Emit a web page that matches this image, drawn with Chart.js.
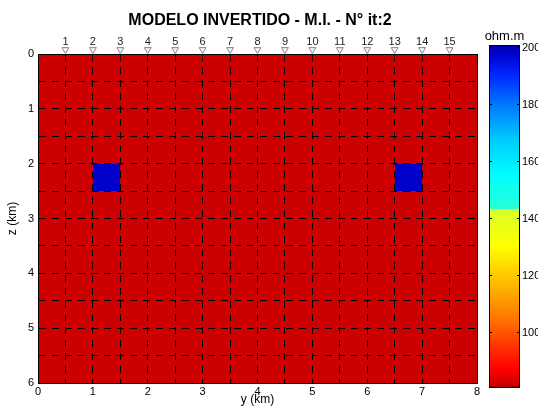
<!DOCTYPE html>
<html>
<head>
<meta charset="utf-8">
<script src="https://cdn.jsdelivr.net/npm/chart.js@4.4.0/dist/chart.umd.min.js"></script>
<style>
  html, body { margin: 0; padding: 0; background: #fff; }
  #wrap { width: 538px; height: 406px; }
</style>
</head>
<body>
<div id="wrap"><canvas id="modelChart"></canvas></div>
<script>
// Inverted resistivity model (2D section), drawn on a scatter chart

// Cell edges of the model mesh (km)
const xEdges = [0, 0.5, 1, 1.5, 2, 2.5, 3, 3.5, 4, 4.5, 5, 5.5, 6, 6.5, 7, 7.5, 8];
const zEdges = [0, 0.5, 1, 1.5, 2, 2.5, 3, 3.5, 4, 4.5, 5, 5.5, 6];

// Resistivity per cell (ohm.m), one row per depth slice
const resistivity = [
    [82, 82, 82, 82, 82, 82, 82, 82, 82, 82, 82, 82, 82, 82, 82, 82],
    [82, 82, 82, 82, 82, 82, 82, 82, 82, 82, 82, 82, 82, 82, 82, 82],
    [82, 82, 82, 82, 82, 82, 82, 82, 82, 82, 82, 82, 82, 82, 82, 82],
    [82, 82, 82, 82, 82, 82, 82, 82, 82, 82, 82, 82, 82, 82, 82, 82],
    [82, 82, 198, 82, 82, 82, 82, 82, 82, 82, 82, 82, 82, 198, 82, 82],
    [82, 82, 82, 82, 82, 82, 82, 82, 82, 82, 82, 82, 82, 82, 82, 82],
    [82, 82, 82, 82, 82, 82, 82, 82, 82, 82, 82, 82, 82, 82, 82, 82],
    [82, 82, 82, 82, 82, 82, 82, 82, 82, 82, 82, 82, 82, 82, 82, 82],
    [82, 82, 82, 82, 82, 82, 82, 82, 82, 82, 82, 82, 82, 82, 82, 82],
    [82, 82, 82, 82, 82, 82, 82, 82, 82, 82, 82, 82, 82, 82, 82, 82],
    [82, 82, 82, 82, 82, 82, 82, 82, 82, 82, 82, 82, 82, 82, 82, 82],
    [82, 82, 82, 82, 82, 82, 82, 82, 82, 82, 82, 82, 82, 82, 82, 82],
];

// MT stations along the profile
const stationX = [0.5, 1, 1.5, 2, 2.5, 3, 3.5, 4, 4.5, 5, 5.5, 6, 6.5, 7, 7.5];
const stationLabels = ['1', '2', '3', '4', '5', '6', '7', '8', '9', '10', '11', '12', '13', '14', '15'];
const stationZ = [-0.08, -0.08, -0.08, -0.08, -0.08, -0.08, -0.08, -0.08, -0.08, -0.08, -0.08, -0.08, -0.08, -0.08, -0.08];

// Axis tick labels
const xTickLabels = [0, 1, 2, 3, 4, 5, 6, 7, 8];
const zTickLabels = [0, 1, 2, 3, 4, 5, 6];

// Colour bar
const cbTicks = [100, 120, 140, 160, 180, 200];
const cbMin = 80.5;
const cbMax = 200.8;
const cmapValues = [80.5, 82, 87, 95, 105, 118, 130, 143.2, 143.3, 155, 168, 180, 190, 198, 200.8];
const cmapColors = [
    [160, 0, 0], [204, 0, 0], [255, 0, 0], [255, 50, 0], [255, 120, 0],
    [255, 190, 0], [255, 255, 0], [215, 255, 40], [40, 255, 215], [0, 255, 255],
    [0, 200, 255], [0, 120, 255], [0, 40, 255], [0, 0, 204], [0, 0, 170],
];

const FONT = 'Arial, "Liberation Sans", sans-serif';

function colorFor(v) {
    if (v <= cmapValues[0]) return `rgb(${cmapColors[0].join(',')})`;
    for (let i = 1; i < cmapValues.length; i++) {
        if (v <= cmapValues[i]) {
            const t = (v - cmapValues[i - 1]) / (cmapValues[i] - cmapValues[i - 1]);
            const a = cmapColors[i - 1];
            const b = cmapColors[i];
            const c = a.map((ch, k) => Math.round(ch + (b[k] - ch) * t));
            return `rgb(${c.join(',')})`;
        }
    }
    return `rgb(${cmapColors[cmapColors.length - 1].join(',')})`;
}

// Paint the model cells below the grid
const modelPlugin = {
    id: 'model',
    beforeDraw(chart) {
        const { ctx, scales: { x, y } } = chart;
        ctx.save();
        resistivity.forEach((row, j) => {
            row.forEach((val, i) => {
                const x0 = Math.round(x.getPixelForValue(xEdges[i]));
                const x1 = Math.round(x.getPixelForValue(xEdges[i + 1]));
                const y0 = Math.round(y.getPixelForValue(zEdges[j]));
                const y1 = Math.round(y.getPixelForValue(zEdges[j + 1]));
                ctx.fillStyle = colorFor(val);
                ctx.fillRect(x0, y0, x1 - x0, y1 - y0);
            });
        });
        ctx.restore();
    },
};

// Colour bar to the right of the section
const colorbarPlugin = {
    id: 'colorbar',
    afterDraw(chart) {
        const { ctx, chartArea } = chart;
        const left = Math.round(chartArea.right) + 12;
        const right = Math.round(chartArea.right) + 43;
        const top = Math.round(chartArea.top) - 9;
        const bottom = Math.round(chartArea.bottom) + 5;
        const h = bottom - top;
        ctx.save();
        for (let py = top; py < bottom; py++) {
            const v = cbMax - (py + 0.5 - top) / h * (cbMax - cbMin);
            ctx.fillStyle = colorFor(v);
            ctx.fillRect(left, py, right - left, 1);
        }
        ctx.strokeStyle = '#000';
        ctx.lineWidth = 1;
        ctx.strokeRect(left + 0.5, top + 0.5, right - left - 1, h - 1);

        ctx.fillStyle = '#000';
        ctx.font = `11px ${FONT}`;
        ctx.textAlign = 'left';
        ctx.textBaseline = 'middle';
        cbTicks.forEach(v => {
            const py = Math.round(bottom - (v - cbMin) / (cbMax - cbMin) * h) + 0.5;
            ctx.beginPath();
            ctx.moveTo(left, py);
            ctx.lineTo(left + 3, py);
            ctx.moveTo(right - 3, py);
            ctx.lineTo(right, py);
            ctx.stroke();
            ctx.fillText(String(v), right + 2, py);
        });

        ctx.font = `13px ${FONT}`;
        ctx.textAlign = 'center';
        ctx.textBaseline = 'alphabetic';
        ctx.fillText('ohm.m', (left + right) / 2, top - 5);
        ctx.restore();
    },
};

const ctxModel = document.getElementById('modelChart').getContext('2d');
const modelChart = new Chart(ctxModel, {
    type: 'scatter',
    data: {
        datasets: [{
            label: 'Estações',
            data: stationX.map((sx, i) => ({ x: sx, y: stationZ[i] })),
            pointStyle: 'triangle',
            rotation: 180,
            radius: 4,
            backgroundColor: '#f2f2f2',
            borderColor: '#888',
            borderWidth: 1,
            clip: false,
        }],
    },
    options: {
        responsive: true,
        maintainAspectRatio: false,
        animation: false,
        layout: {
            padding: { left: 0, right: 18, top: 0, bottom: 0 },
        },
        plugins: {
            legend: { display: false },
            tooltip: { enabled: false },
            title: {
                display: true,
                text: 'MODELO INVERTIDO - M.I. - N° it:2',
                color: '#000',
                font: { family: FONT, size: 16, weight: 'bold', lineHeight: '18px' },
                padding: { top: 12, bottom: 0 },
            },
        },
        scales: {
            x: {
                type: 'linear',
                position: 'bottom',
                min: 0,
                max: 8,
                afterFit: scale => { scale.height = 23; },
                ticks: {
                    stepSize: 0.5,
                    autoSkip: false,
                    maxRotation: 0,
                    padding: 2,
                    color: '#000',
                    font: { family: FONT, size: 11 },
                    callback: v => (xTickLabels.includes(v) ? String(v) : ''),
                },
                grid: { color: '#000', lineWidth: 1, drawTicks: false },
                border: { display: true, color: '#000', width: 1, dash: [7, 6] },
                title: {
                    display: true,
                    text: 'y (km)',
                    color: '#000',
                    font: { family: FONT, size: 12, lineHeight: 1 },
                    padding: { top: 0, bottom: 0 },
                },
            },
            x2: {
                type: 'linear',
                position: 'top',
                min: 0,
                max: 8,
                afterFit: scale => { scale.height = 24; },
                afterBuildTicks: scale => {
                    scale.ticks = stationX.map(v => ({ value: v }));
                },
                ticks: {
                    autoSkip: false,
                    maxRotation: 0,
                    padding: 5,
                    color: '#222',
                    font: { family: FONT, size: 11 },
                    callback: (v, i) => stationLabels[i],
                },
                grid: { display: false, drawTicks: false },
                border: { display: true, color: '#000', width: 1 },
            },
            y: {
                type: 'linear',
                position: 'left',
                reverse: true,
                min: 0,
                max: 6,
                afterFit: scale => { scale.width = 38; },
                ticks: {
                    stepSize: 0.5,
                    autoSkip: false,
                    padding: 4,
                    color: '#000',
                    font: { family: FONT, size: 11 },
                    callback: v => (zTickLabels.includes(v) ? String(v) : ''),
                },
                grid: { color: '#000', lineWidth: 1, drawTicks: false },
                border: { display: true, color: '#000', width: 1, dash: [7, 6] },
                title: {
                    display: true,
                    text: 'z (km)',
                    color: '#000',
                    font: { family: FONT, size: 12, lineHeight: 1 },
                    padding: { top: 7, bottom: 0 },
                },
            },
            y2: {
                type: 'linear',
                position: 'right',
                min: 0,
                max: 6,
                afterFit: scale => { scale.width = 43; },
                ticks: { display: false },
                grid: { drawOnChartArea: false, drawTicks: false },
                border: { display: true, color: '#000', width: 1 },
            },
        },
    },
    plugins: [modelPlugin, colorbarPlugin],
});
</script>
</body>
</html>
